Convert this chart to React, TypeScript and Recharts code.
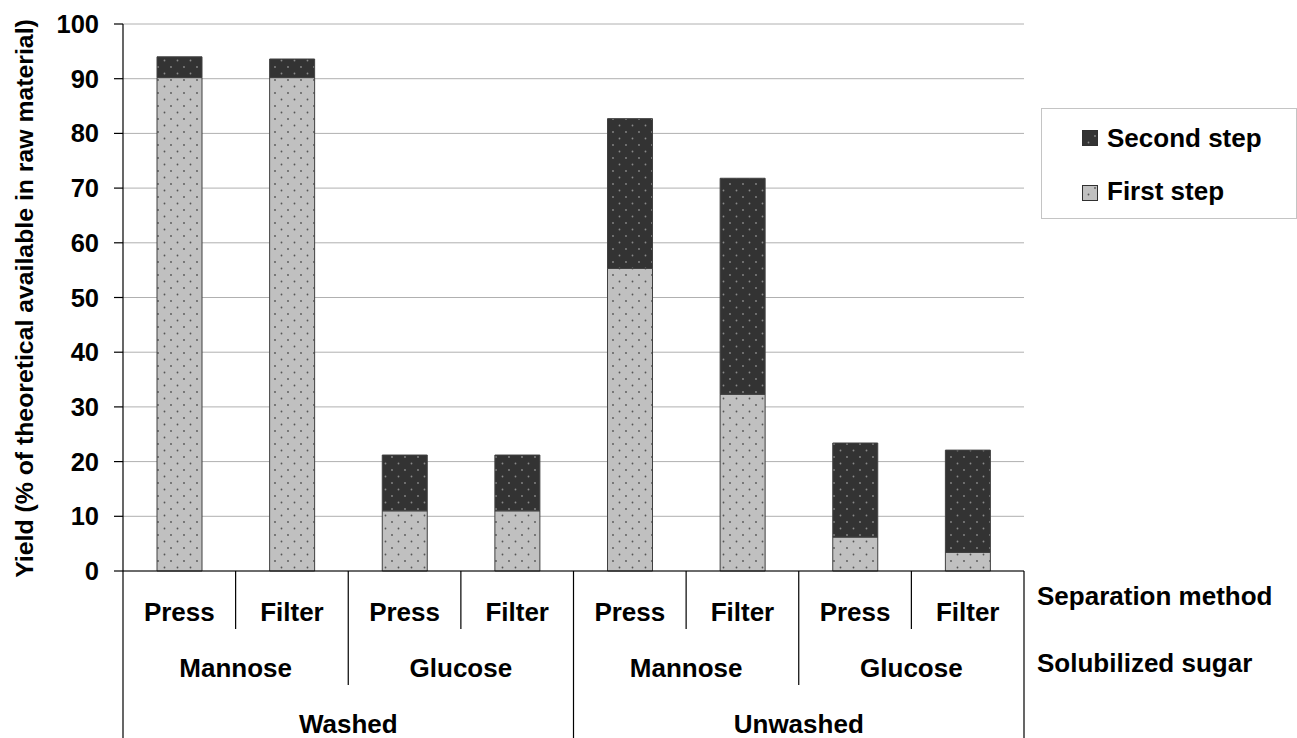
import React from 'react';
import { BarChart, Bar, XAxis, YAxis, CartesianGrid, Legend } from 'recharts';

// ---- data ----
const methods = ['Press', 'Filter', 'Press', 'Filter', 'Press', 'Filter', 'Press', 'Filter'];
const sugars = ['Mannose', 'Mannose', 'Glucose', 'Glucose', 'Mannose', 'Mannose', 'Glucose', 'Glucose'];
const washing = ['Washed', 'Washed', 'Washed', 'Washed', 'Unwashed', 'Unwashed', 'Unwashed', 'Unwashed'];
const firstStep = [90.2, 90.2, 11.0, 11.0, 55.3, 32.3, 6.2, 3.4];
const secondStep = [3.8, 3.4, 10.2, 10.2, 27.4, 39.5, 17.2, 18.7];
const yTicks = [0, 10, 20, 30, 40, 50, 60, 70, 80, 90, 100];
const levelTitles = ['Separation method', 'Solubilized sugar'];
const seriesNames = { first: 'First step', second: 'Second step' };
const yLabel = 'Yield (% of theoretical available in raw material)';

const data = methods.map((m, i) => ({
  id: i,
  method: m,
  sugar: sugars[i],
  washing: washing[i],
  first: firstStep[i],
  second: secondStep[i],
}));

// ---- layout ----
const W = 1297;
const H = 738;
const PLOT_LEFT = 123;
const PLOT_RIGHT = 1024;
const PLOT_TOP = 24;
const PLOT_BOTTOM = 571;
const CAT_W = (PLOT_RIGHT - PLOT_LEFT) / methods.length;
const FONT = '"Liberation Sans", Arial, Helvetica, sans-serif';
const FS = 26;

const txt = {
  fontFamily: FONT,
  fontWeight: 700 as const,
  fontSize: FS,
  fill: '#000',
};

const XTick = (props: any) => {
  const { x, payload } = props;
  const i: number = payload.index ?? props.index;
  const half = CAT_W / 2;
  const sepEnd = i % 4 === 3 ? H : i % 2 === 1 ? 685 : 629;
  return (
    <g>
      <text x={x} y={621} textAnchor="middle" style={txt}>
        {methods[i]}
      </text>
      {i === 0 && (
        <line x1={x - half} x2={x - half} y1={PLOT_BOTTOM} y2={H} stroke="#000" strokeWidth={1.2} />
      )}
      <line x1={x + half} x2={x + half} y1={PLOT_BOTTOM} y2={sepEnd} stroke="#000" strokeWidth={1.2} />
      {i % 2 === 1 && (
        <text x={x - half} y={677} textAnchor="middle" style={txt}>
          {sugars[i]}
        </text>
      )}
      {i % 4 === 1 && (
        <text x={x + half} y={733} textAnchor="middle" style={txt}>
          {washing[i]}
        </text>
      )}
      {i === methods.length - 1 && (
        <g>
          <text x={x + half + 13} y={605} textAnchor="start" style={txt}>
            {levelTitles[0]}
          </text>
          <text x={x + half + 13} y={672} textAnchor="start" style={txt}>
            {levelTitles[1]}
          </text>
        </g>
      )}
    </g>
  );
};

const LegendBox = () => (
  <svg width={256} height={111} style={{ display: 'block' }}>
    <rect x={0.5} y={0.5} width={255} height={110} fill="#fff" stroke="#c4c4c4" />
    <rect x={41.5} y={22.5} width={15} height={15} fill="url(#dotsDark)" stroke="#303030" />
    <text x={66} y={39} style={txt}>
      {seriesNames.second}
    </text>
    <rect x={41.5} y={77.5} width={15} height={15} fill="url(#dotsLight)" stroke="#303030" />
    <text x={66} y={92} style={txt}>
      {seriesNames.first}
    </text>
  </svg>
);

const YLabel = () => (
  <text
    x={0}
    y={0}
    transform={`translate(33, ${(PLOT_TOP + PLOT_BOTTOM) / 2 + 1}) rotate(-90)`}
    textAnchor="middle"
    style={{ ...txt, fontSize: 24.8 }}
  >
    {yLabel}
  </text>
);

export default function App() {
  return (
    <div style={{ position: 'absolute', left: 0, top: 0, width: W, height: H, background: '#fff' }}>
      <svg width={0} height={0} style={{ position: 'absolute' }}>
        <defs>
          <pattern id="dotsLight" width={13} height={13} patternUnits="userSpaceOnUse">
            <rect width={13} height={13} fill="#c0c0c0" />
            <circle cx={2} cy={2} r={0.9} fill="#555" />
            <circle cx={8.5} cy={8.5} r={0.9} fill="#555" />
          </pattern>
          <pattern id="dotsDark" width={13} height={13} patternUnits="userSpaceOnUse">
            <rect width={13} height={13} fill="#333333" />
            <circle cx={2} cy={2} r={0.9} fill="#8a8a8a" />
            <circle cx={8.5} cy={8.5} r={0.9} fill="#8a8a8a" />
          </pattern>
        </defs>
      </svg>
      <BarChart
        width={W}
        height={H}
        data={data}
        margin={{ top: PLOT_TOP, right: W - PLOT_RIGHT, bottom: 0, left: 0 }}
        barSize={45}
      >
        <CartesianGrid vertical={false} stroke="#b0b0b0" strokeWidth={1} />
        <XAxis
          dataKey="id"
          type="category"
          height={H - PLOT_BOTTOM}
          interval={0}
          tickLine={false}
          axisLine={{ stroke: '#000', strokeWidth: 1.2 }}
          tick={(p: any) => <XTick {...p} />}
        />
        <YAxis
          width={PLOT_LEFT}
          domain={[0, 100]}
          ticks={yTicks}
          interval={0}
          tickSize={9}
          tickMargin={15}
          axisLine={{ stroke: '#000', strokeWidth: 1.2 }}
          tickLine={{ stroke: '#000', strokeWidth: 1.2 }}
          tick={{ ...txt, fontSize: 25.5 }}
          label={{ content: () => <YLabel /> }}
        />
        <YAxis
          yAxisId="right"
          orientation="right"
          width={0}
          domain={[0, 100]}
          tick={false}
          tickLine={false}
          axisLine={{ stroke: '#a8a8a8', strokeWidth: 1.2 }}
        />
        <Legend
          layout="vertical"
          align="center"
          verticalAlign="middle"
          content={() => <LegendBox />}
          wrapperStyle={{ position: 'absolute', left: 1041, top: 108, width: 256, height: 111 }}
        />
        <Bar
          dataKey="first"
          name={seriesNames.first}
          stackId="a"
          fill="url(#dotsLight)"
          stroke="#404040"
          strokeWidth={1}
          isAnimationActive={false}
        />
        <Bar
          dataKey="second"
          name={seriesNames.second}
          stackId="a"
          fill="url(#dotsDark)"
          stroke="#404040"
          strokeWidth={1}
          isAnimationActive={false}
        />
      </BarChart>
    </div>
  );
}
